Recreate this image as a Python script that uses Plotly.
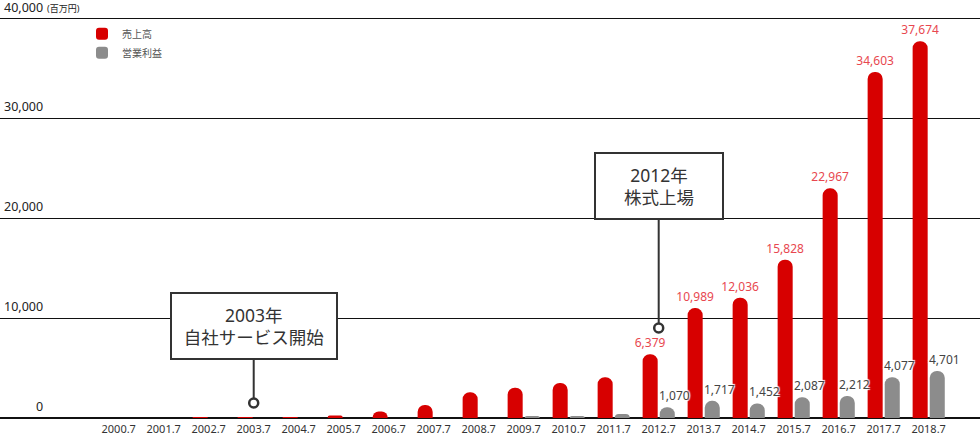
import plotly.graph_objects as go

years = ["2000.7", "2001.7", "2002.7", "2003.7", "2004.7", "2005.7", "2006.7",
         "2007.7", "2008.7", "2009.7", "2010.7", "2011.7", "2012.7", "2013.7",
         "2014.7", "2015.7", "2016.7", "2017.7", "2018.7"]
sales = [0, 0, 40, 40, 40, 260, 660, 1300, 2570, 3030, 3500, 4070, 6379, 10989,
         12036, 15828, 22967, 34603, 37674]
profit = [0, 0, 0, 0, 0, 0, 0, 0, 0, 200, 200, 400, 1070, 1717, 1452, 2087,
          2212, 4077, 4701]
label_from = 12  # values shown from 2012.7
ytick_vals = [0, 10000, 20000, 30000, 40000]
ytick_text = ["0", "10,000", "20,000", "30,000", "40,000"]
unit_text = "(百万円)"
events = [("2003.7", 1500, "2003年<br>自社サービス開始", -77, 150),
          ("2012.7", 9000, "2012年<br>株式上場", -142, 112)]

RED = "#d70000"
GRAY = "#8c8c8c"
RED_TXT = "#e8474f"
DARK = "#333333"
FONT = "Noto Sans, Noto Sans CJK JP, sans-serif"

red_text = [f"{v:,}" if i >= label_from else "" for i, v in enumerate(sales)]

fig = go.Figure()
fig.add_trace(go.Bar(
    x=years, y=sales, name="売上高", marker=dict(color=RED, line=dict(width=0)),
    text=red_text, textposition="outside", constraintext="none", cliponaxis=False,
    textfont=dict(color=RED_TXT, size=12, family=FONT), hoverinfo="skip"))
fig.add_trace(go.Bar(
    x=years, y=profit, name="営業利益", marker=dict(color=GRAY, line=dict(width=0)),
    hoverinfo="skip"))

# event markers
fig.add_trace(go.Scatter(
    x=[e[0] for e in events], y=[e[1] for e in events], mode="markers",
    marker=dict(symbol="circle", size=9, color="white",
                line=dict(color=DARK, width=2.5)),
    showlegend=False, hoverinfo="skip", cliponaxis=False))

annotations = []
# gray value labels
halo = "1px 1px 1px #fff, -1px -1px 1px #fff, 1px -1px 1px #fff, -1px 1px 1px #fff"
for i, v in enumerate(profit):
    if i >= label_from:
        annotations.append(dict(
            x=i, y=v, xref="x", yref="y", text=f"{v:,}", showarrow=False,
            xanchor="center", yanchor="bottom", xshift=15.5, yshift=1,
            font=dict(size=12, color="#444444", family=FONT, shadow=halo)))
# y tick labels
for val, txt in zip(ytick_vals, ytick_text):
    annotations.append(dict(
        x=45 / 980, y=val, xref="paper", yref="y", text=txt, showarrow=False,
        xanchor="right", yanchor="bottom", yshift=1 if val < 40000 else 0,
        font=dict(size=12.5, color="#222222", family=FONT)))
annotations.append(dict(
    x=45 / 980, y=ytick_vals[-1], xref="paper", yref="y", text=unit_text,
    showarrow=False, xanchor="left", yanchor="bottom", yshift=1,
    font=dict(size=9, color="#222222", family=FONT)))
# callouts
for x, y, txt, ay, w in events:
    annotations.append(dict(
        x=years.index(x), y=y, xref="x", yref="y", text=txt, showarrow=True,
        arrowhead=0, arrowwidth=2, arrowcolor=DARK, ax=0, ay=ay, standoff=5,
        width=w, height=50, borderpad=7, borderwidth=2, bordercolor=DARK,
        bgcolor="white", align="center",
        font=dict(size=17.5, color=DARK, family=FONT)))

fig.update_layout(
    width=980, height=437, margin=dict(l=0, r=0, t=14, b=19),
    paper_bgcolor="white", plot_bgcolor="white",
    barmode="group", bargap=0.24, bargroupgap=0.12, barcornerradius=7,
    font=dict(family=FONT, color=DARK),
    showlegend=True,
    legend=dict(x=82 / 980, y=0.987, xanchor="left", yanchor="top",
                font=dict(size=10, color="#555555", family=FONT),
                bgcolor="rgba(0,0,0,0)", itemwidth=30, tracegroupgap=0),
    annotations=annotations,
    xaxis=dict(type="category", range=[-2.638, 19.14], showgrid=False,
               showline=False, zeroline=False, ticks="", fixedrange=True,
               ticklabelstandoff=3,
               tickfont=dict(size=11, color=DARK, family=FONT)),
    yaxis=dict(range=[0, 40400], tickvals=ytick_vals, showticklabels=False,
               showgrid=True, gridcolor="#111111", gridwidth=1,
               zeroline=True, zerolinecolor="#111111", zerolinewidth=2,
               showline=False, ticks="", fixedrange=True),
)

fig.write_html("out.html", config={"displayModeBar": False},
               post_script="document.body.style.margin='0';")
